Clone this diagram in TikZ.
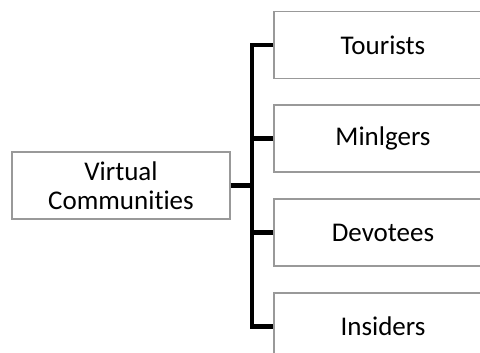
\documentclass[tikz,border=0pt]{standalone}
\usepackage{fontspec}
\setmainfont[Ligatures=NoCommon]{Carlito}
\begin{document}
\begin{tikzpicture}[x=1pt,y=-1pt,
  box/.style={draw=black!40, line width=1.2pt, fill=white,
    minimum width=218pt, minimum height=67pt, inner sep=0pt,
    align=center, text=black,
    font=\fontsize{27pt}{29pt}\selectfont},
  conn/.style={draw=black, line width=4.6pt}]
  \useasboundingbox (0,0) rectangle (480,353);
  \clip (0,0) rectangle (480,353);
  % root and the four categories
  \node[box] (root) at (121,185.5) {Virtual\\Communities};
  \node[box] (tour) at (383,45)    {Tourists};
  \node[box] (ming) at (383,138.5) {Minlgers};
  \node[box] (devo) at (383,232.5) {Devotees};
  \node[box] (insi) at (383,326.5) {Insiders};
  % bracket connector
  \coordinate (bus) at (252,0);
  \draw[conn] (tour.west) -- (tour.west -| bus) -- (insi.west -| bus) -- (insi.west);
  \draw[conn] (ming.west) -- (ming.west -| bus);
  \draw[conn] (devo.west) -- (devo.west -| bus);
  \draw[conn] (root.east) -- (root.east -| bus);
\end{tikzpicture}
\end{document}
